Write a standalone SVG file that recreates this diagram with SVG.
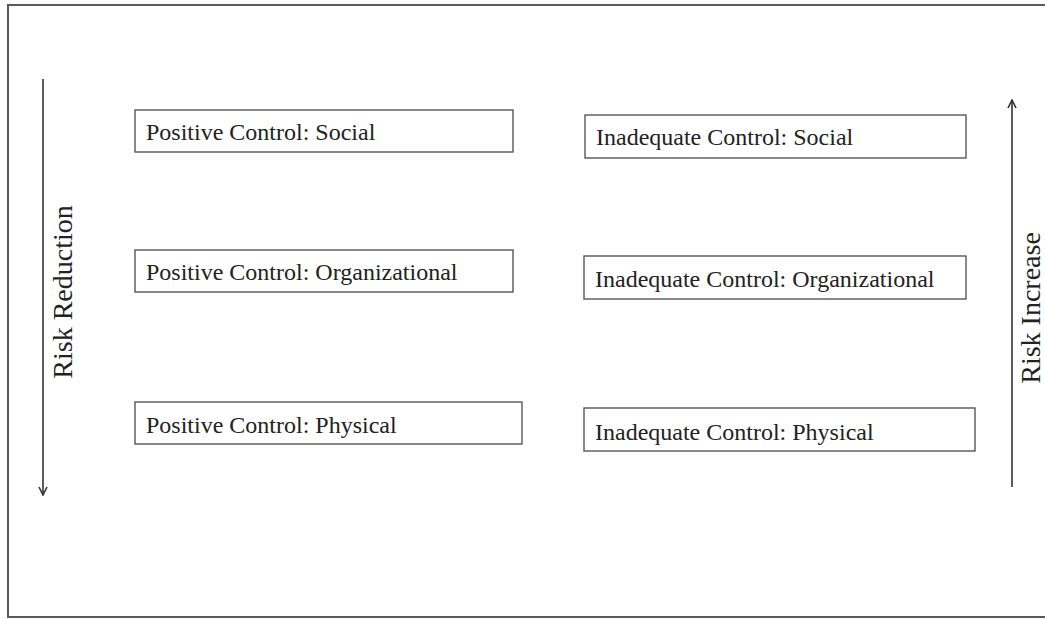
<svg xmlns="http://www.w3.org/2000/svg" width="1045" height="619" viewBox="0 0 1045 619">
  <style>
    .frame { fill: none; stroke: #5a5a5a; stroke-width: 2; }
    .box rect { fill: #fff; stroke: #4a4a4a; stroke-width: 1.3; }
    .box text { font-family: "Liberation Serif", "Times New Roman", serif; font-size: 24px; fill: #222; }
    .axis { stroke: #333; stroke-width: 1.6; fill: none; }
    .axis-label { font-family: "Liberation Serif", "Times New Roman", serif; font-size: 28px; fill: #222; }
  </style>
  <defs>
    <marker id="chev" viewBox="0 0 10 10" refX="9" refY="5" markerWidth="10" markerHeight="10" markerUnits="userSpaceOnUse" orient="auto">
      <path d="M1,1 L9,5 L1,9" fill="none" stroke="#333" stroke-width="1.6"/>
    </marker>
  </defs>
  <rect width="1045" height="619" fill="#fff"/>
  <rect class="frame" x="8" y="5" width="1050" height="612"/>

  <g id="connectors">
    <line class="axis" x1="43" y1="79" x2="43" y2="495" marker-end="url(#chev)"/>
    <line class="axis" x1="1012" y1="487" x2="1012" y2="100" marker-end="url(#chev)"/>
  </g>

  <text class="axis-label" transform="translate(72,292) rotate(-90)" text-anchor="middle">Risk  Reduction</text>
  <text class="axis-label" transform="translate(1040,308) rotate(-90)" text-anchor="middle">Risk  Increase</text>

  <g id="pos-social" class="box">
    <rect x="135" y="110" width="378" height="42"/>
    <text x="146" y="140">Positive Control: Social</text>
  </g>
  <g id="pos-org" class="box">
    <rect x="135" y="250" width="378" height="42"/>
    <text x="146" y="280">Positive Control: Organizational</text>
  </g>
  <g id="pos-phys" class="box">
    <rect x="135" y="402" width="387" height="42"/>
    <text x="146" y="433">Positive Control: Physical</text>
  </g>
  <g id="inad-social" class="box">
    <rect x="585" y="115" width="381" height="43"/>
    <text x="596" y="145">Inadequate Control: Social</text>
  </g>
  <g id="inad-org" class="box">
    <rect x="584" y="256" width="382" height="43"/>
    <text x="595" y="287">Inadequate Control: Organizational</text>
  </g>
  <g id="inad-phys" class="box">
    <rect x="584" y="408" width="391" height="43"/>
    <text x="595" y="440">Inadequate Control: Physical</text>
  </g>
</svg>
